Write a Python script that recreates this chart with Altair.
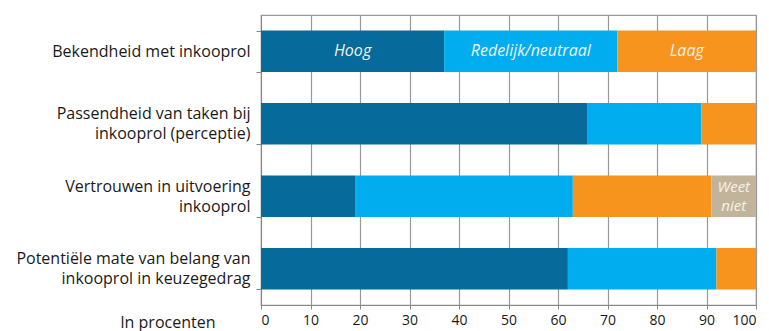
import altair as alt
import pandas as pd

categories = [
    "Bekendheid met inkooprol",
    "Passendheid van taken bij|inkooprol (perceptie)",
    "Vertrouwen in uitvoering|inkooprol",
    "Potentiële mate van belang van|inkooprol in keuzegedrag",
]
segments = ["Hoog", "Redelijk/neutraal", "Laag", "Weet niet"]
colors = ["#066a9b", "#01adee", "#f7941e", "#c2b49a"]
hoog = [37, 66, 19, 62]
redelijk = [35, 23, 44, 30]
laag = [28, 11, 28, 8]
weet_niet = [0, 0, 9, 0]
ticks = list(range(0, 101, 10))

rows = []
for i, cat in enumerate(categories):
    start = 0
    for j, (seg, vals) in enumerate(zip(segments, [hoog, redelijk, laag, weet_niet])):
        v = vals[i]
        if v <= 0:
            continue
        label = ""
        if i == 0:
            label = seg
        if seg == "Weet niet":
            label = "Weet|niet"
        rows.append({"cat": cat, "seg": seg, "order": j, "start": start,
                     "end": start + v, "mid": start + v / 2, "label": label})
        start += v
df = pd.DataFrame(rows)

y_enc = alt.Y("cat:N", sort=categories, scale=alt.Scale(paddingInner=0.43, paddingOuter=0.215),
              axis=alt.Axis(title=None, labelExpr="split(datum.label, '|')", tickBand="extent",
                            labelFontSize=16, labelFont="Open Sans", labelColor="#1a1a1a",
                            labelLineHeight=20, labelPadding=6, tickSize=5, tickColor="#888",
                            labelOffset={"condition": {"test": "indexof(datum.label, '|') >= 0", "value": -10}, "value": 0},
                            domainColor="#888", labelLimit=300))

bars = alt.Chart(df).mark_bar().encode(
    y=y_enc,
    x=alt.X("start:Q", scale=alt.Scale(domain=[0, 100], nice=False),
            axis=alt.Axis(values=ticks, title="In procenten", titleFont="Open Sans",
                          titleFontSize=16, titleFontWeight="normal", titleColor="#1a1a1a",
                          titleX=-46, titleY=22, titleAlign="right", titleBaseline="alphabetic",
                          labelFont="Open Sans", labelFontSize=14, labelColor="#1a1a1a",
                          labelPadding=4, tickSize=4, tickColor="#888", domainColor="#888",
                          grid=True, gridColor="#999", gridWidth=1.2, gridOpacity=1)),
    x2="end:Q",
    color=alt.Color("seg:N", scale=alt.Scale(domain=segments, range=colors), legend=None),
)

single = df[(df["label"] != "") & (~df["label"].str.contains(r"\|"))]
multi = df[df["label"].str.contains(r"\|")]

texts = alt.Chart(single).mark_text(
    color="#f4f1ea", font="Open Sans", fontStyle="italic", fontSize=16,
).encode(
    y=alt.Y("cat:N", sort=categories),
    x=alt.X("mid:Q"),
    text="label:N",
)

texts2 = alt.Chart(multi).mark_text(
    color="#f4f1ea", font="Open Sans", fontStyle="italic", fontSize=15, lineBreak="|",
    lineHeight=19, dy=-9,
).encode(
    y=alt.Y("cat:N", sort=categories),
    x=alt.X("mid:Q"),
    text="label:N",
)

chart = (bars + texts + texts2).properties(
    width=495, height=290,
    autosize=alt.AutoSizeParams(type="none"),
    padding={"left": 261, "top": 15, "right": 13, "bottom": 26},
).configure_view(stroke="#999", strokeWidth=1.2)

chart.save("out.html", embed_options={"renderer": "svg", "actions": False})
